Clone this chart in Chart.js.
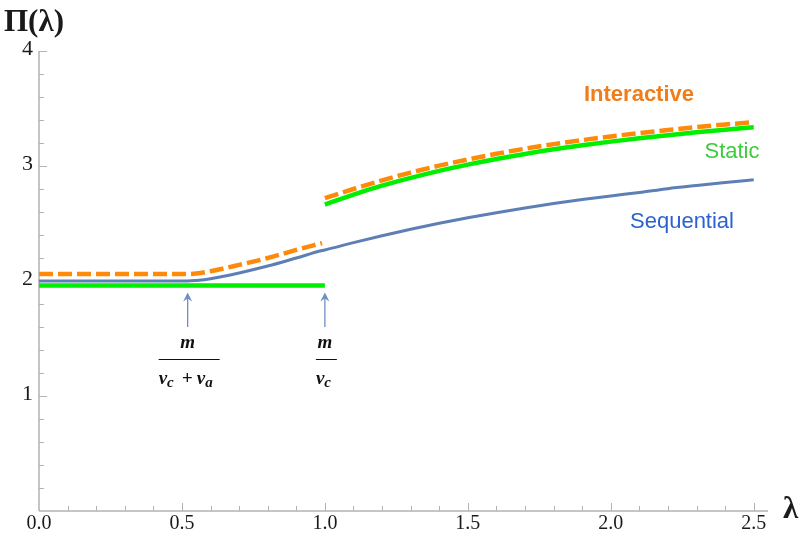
<!DOCTYPE html>
<html>
<head>
<meta charset="utf-8">
<script src="https://cdn.jsdelivr.net/npm/chart.js"></script>
<style>
  html, body { margin: 0; padding: 0; background: #fff; }
  #wrap { width: 804px; height: 541px; position: relative; }
</style>
</head>
<body>
<div id="wrap"><canvas id="chart"></canvas></div>
<script>
// lambda values (x) for the two branches
const lambdaLow = [0, 0.1, 0.2, 0.3, 0.4, 0.5, 0.52, 0.55, 0.6, 0.7, 0.8, 0.9, 0.99];
const lambdaHigh = [1.0, 1.1, 1.2, 1.3, 1.4, 1.5, 1.6, 1.7, 1.8, 1.9, 2.0, 2.1, 2.2, 2.3, 2.4, 2.5];

const sequentialLow = [2.0, 2.0, 2.0, 2.0, 2.0, 2.0, 2.0, 2.005, 2.02, 2.07, 2.13, 2.2, 2.265];
const sequentialHigh = [2.27, 2.334, 2.394, 2.45, 2.502, 2.55, 2.594, 2.635, 2.673, 2.708, 2.74, 2.77, 2.803, 2.83, 2.856, 2.88];

const interactiveLow = [2.06, 2.06, 2.06, 2.06, 2.06, 2.06, 2.06, 2.065, 2.085, 2.14, 2.2, 2.27, 2.33];
const interactiveHigh = [2.72, 2.8, 2.875, 2.943, 3.003, 3.057, 3.106, 3.15, 3.19, 3.225, 3.257, 3.286, 3.313, 3.338, 3.361, 3.381];

const staticLambdaLow = [0, 1.0];
const staticLow = [1.96, 1.96];
const staticHigh = [2.665, 2.752, 2.829, 2.897, 2.958, 3.012, 3.061, 3.105, 3.145, 3.18, 3.212, 3.241, 3.268, 3.293, 3.316, 3.336];

const xTicks = [0, 0.5, 1.0, 1.5, 2.0, 2.5];
const yTicks = [1, 2, 3, 4];

// arrows marking m/(vc+va) and m/vc
const arrowX = [0.52, 1.0];

const pts = (xs, ys) => xs.map((x, i) => ({ x, y: ys[i] }));

const GREEN = "#00ee00";
const ORANGE = "#ff8a0a";
const BLUE = "#5d7fb6";

const line = (data, color, width, dash) => ({
  data,
  borderColor: color,
  borderWidth: width,
  borderDash: dash || [],
  pointRadius: 0,
  showLine: true,
  fill: false,
  tension: 0.4,
  cubicInterpolationMode: "monotone",
  clip: false,
});

const axesPlugin = {
  id: "axes",
  beforeDatasetsDraw(chart) {
    const { ctx } = chart;
    const xs = chart.scales.x, ys = chart.scales.y;
    const x0 = xs.getPixelForValue(0), y0 = ys.getPixelForValue(0);
    ctx.save();
    ctx.strokeStyle = "#b3b3b3";
    ctx.lineWidth = 1.5;
    ctx.beginPath();
    ctx.moveTo(x0, y0);
    ctx.lineTo(xs.getPixelForValue(2.55), y0);
    ctx.moveTo(x0, y0);
    ctx.lineTo(x0, ys.getPixelForValue(4));
    ctx.stroke();
    ctx.lineWidth = 1;
    ctx.beginPath();
    for (let i = 1; i <= 25; i++) {
      const px = Math.round(xs.getPixelForValue(i / 10)) + 0.5;
      const len = i % 5 === 0 ? 8 : 5;
      ctx.moveTo(px, y0);
      ctx.lineTo(px, y0 - len);
    }
    for (let i = 1; i <= 20; i++) {
      const py = Math.round(ys.getPixelForValue(i / 5)) + 0.5;
      const len = i % 5 === 0 ? 8 : 5;
      ctx.moveTo(x0, py);
      ctx.lineTo(x0 + len, py);
    }
    ctx.stroke();

    ctx.fillStyle = "#1a1a1a";
    ctx.font = "20px 'Liberation Serif'";
    ctx.textAlign = "center";
    ctx.textBaseline = "top";
    xTicks.forEach((v) => ctx.fillText(v.toFixed(1), xs.getPixelForValue(v), y0 + 3));
    ctx.font = "22px 'Liberation Serif'";
    ctx.textAlign = "right";
    ctx.textBaseline = "middle";
    yTicks.forEach((v) => ctx.fillText(String(v), x0 - 6, ys.getPixelForValue(v) - 2));

    ctx.font = "bold 31px 'Liberation Serif'";
    ctx.textAlign = "left";
    ctx.textBaseline = "alphabetic";
    ctx.fillText("\u03a0(\u03bb)", 4, 31);
    ctx.font = "bold 31px 'Liberation Serif'";
    ctx.fillText("\u03bb", 783, 518);
    ctx.restore();
  },
  afterDatasetsDraw(chart) {
    const { ctx } = chart;
    const xs = chart.scales.x, ys = chart.scales.y;
    ctx.save();
    ctx.strokeStyle = "#6f8fc2";
    ctx.fillStyle = "#6f8fc2";
    ctx.lineWidth = 1.3;
    arrowX.forEach((v) => {
      const px = xs.getPixelForValue(v);
      const top = ys.getPixelForValue(1.9), bot = ys.getPixelForValue(1.6);
      ctx.beginPath();
      ctx.moveTo(px, bot);
      ctx.lineTo(px, top + 2);
      ctx.stroke();
      ctx.beginPath();
      ctx.moveTo(px, top);
      ctx.lineTo(px - 4.5, top + 9);
      ctx.lineTo(px, top + 6);
      ctx.lineTo(px + 4.5, top + 9);
      ctx.closePath();
      ctx.fill();
    });

    // fraction labels under the arrows
    ctx.fillStyle = "#111";
    ctx.strokeStyle = "#111";
    ctx.lineWidth = 1;
    const big = "italic bold 19px 'Liberation Serif'";
    const small = "italic bold 15px 'Liberation Serif'";
    const a = xs.getPixelForValue(arrowX[0]);
    const b = xs.getPixelForValue(arrowX[1]);
    ctx.textBaseline = "alphabetic";
    ctx.textAlign = "center";
    ctx.font = big;
    ctx.fillText("m", a, 348);
    ctx.fillText("m", b, 348);
    ctx.beginPath();
    ctx.moveTo(a - 29, 359.5); ctx.lineTo(a + 32, 359.5);
    ctx.moveTo(b - 9, 359.5); ctx.lineTo(b + 12, 359.5);
    ctx.stroke();
    ctx.textAlign = "left";
    const sub = (x, y, main, s) => {
      ctx.font = big; ctx.fillText(main, x, y);
      const w = ctx.measureText(main).width;
      ctx.font = small; ctx.fillText(s, x + w, y + 3);
      return x + w + ctx.measureText(s).width;
    };
    let cx = sub(a - 29, 384, "v", "c");
    ctx.font = big; ctx.fillText("+", cx + 8, 384);
    sub(cx + 23, 384, "v", "a");
    sub(b - 9, 384, "v", "c");

    // series labels
    ctx.textAlign = "center";
    ctx.textBaseline = "middle";
    ctx.font = "bold 22px 'Liberation Sans'";
    ctx.fillStyle = "#f07d1a";
    ctx.fillText("Interactive", 639, 95);
    ctx.font = "22px 'Liberation Sans'";
    ctx.fillStyle = "#3ccc3c";
    ctx.fillText("Static", 732, 152);
    ctx.fillStyle = "#2c62cf";
    ctx.fillText("Sequential", 682, 222);
    ctx.restore();
  },
};

new Chart(document.getElementById("chart"), {
  type: "scatter",
  data: {
    datasets: [
      line(pts(lambdaLow, sequentialLow).concat(pts(lambdaHigh, sequentialHigh)), BLUE, 3),
      line(pts(staticLambdaLow, staticLow), GREEN, 4.5),
      line(pts(lambdaHigh, staticHigh), GREEN, 4.5),
      line(pts(lambdaLow, interactiveLow), ORANGE, 4.5, [14, 5]),
      line(pts(lambdaHigh, interactiveHigh), ORANGE, 4.5, [14, 5]),
    ],
  },
  options: {
    responsive: true,
    maintainAspectRatio: false,
    animation: false,
    layout: { padding: { left: 39, right: 36, top: 51, bottom: 30 } },
    plugins: { legend: { display: false }, tooltip: { enabled: false } },
    scales: {
      x: { type: "linear", min: 0, max: 2.55, display: false },
      y: { type: "linear", min: 0, max: 4, display: false },
    },
  },
  plugins: [axesPlugin],
});
</script>
</body>
</html>
